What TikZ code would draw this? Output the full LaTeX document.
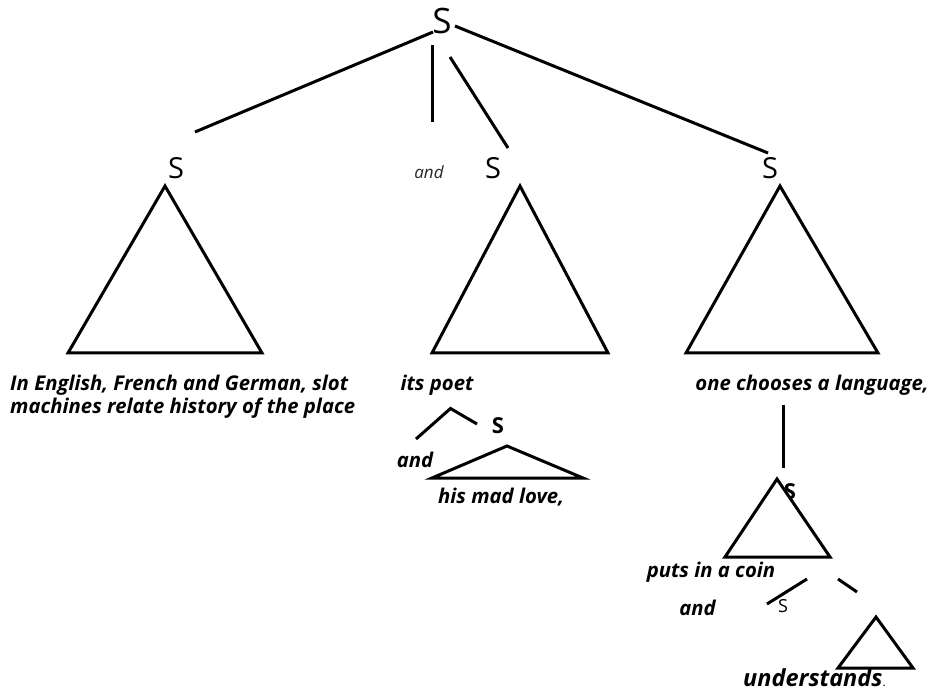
\documentclass[tikz,border=0pt]{standalone}
\usepackage{fontspec}
\setmainfont{Open Sans}
\begin{document}
\begin{tikzpicture}[x=1pt,y=-1pt,
  edge/.style={line width=3pt},
  tri/.style={line width=3pt, line join=miter},
  cat/.style={inner sep=0pt, font=\fontsize{29}{30}\selectfont},
  topcat/.style={inner sep=0pt, font=\fontsize{35}{36}\selectfont},
  catb/.style={inner sep=0pt, font=\fontsize{22}{24}\selectfont\bfseries},
  conj/.style={inner sep=0pt, text=black!85, font=\fontsize{17}{20}\selectfont\itshape},
  words/.style={inner sep=0pt, font=\fontsize{20.3}{23}\selectfont\bfseries\itshape}]
\useasboundingbox (0,0) rectangle (932,692);

% top clause and its three daughters
\node[topcat] (s0) at (442,21) {S};
\node[cat] (s1) at (176,168) {S};
\node[conj] (and1) at (429,172) {and};
\node[cat] (s2) at (493,168) {S};
\node[cat] (s3) at (770,168) {S};

\coordinate (s0l) at (433,32);
\coordinate (s1t) at (195,132);
\coordinate (s0m) at (432,45);
\coordinate (andt) at (432,122);
\coordinate (s0d) at (450,57);
\coordinate (s2t) at (508,148);
\coordinate (s0r) at (455,26);
\coordinate (s3t) at (768,153);
\draw[edge] (s0l) -- (s1t);
\draw[edge] (s0m) -- (andt);
\draw[edge] (s0d) -- (s2t);
\draw[edge] (s0r) -- (s3t);

% constituent triangles
\draw[tri] (165,186) -- (262,353) -- (68,353) -- cycle;
\draw[tri] (520,186) -- (608,353) -- (432,353) -- cycle;
\draw[tri] (780,186) -- (878,353) -- (686,353) -- cycle;

% left clause
\node[words, anchor=west] (w1a) at (10,385) {In English, French and German, slot};
\node[words, anchor=west] (w1b) at (10,408) {machines relate history of the place};

% middle clause
\node[words] (w2) at (437,385) {its poet};
\node[catb] (s21) at (498,426) {S};
\node[words] (and2) at (415,460) {and};
\coordinate (p1) at (416,439);
\coordinate (p2) at (450.5,408.5);
\coordinate (p3) at (477,424);
\draw[edge] (p1) -- (p2) -- (p3);
\draw[tri] (507,446) -- (583,478) -- (432,478) -- cycle;
\node[words] (w3) at (501,497) {his mad love,};

% right clause
\node[words] (w4) at (812,385) {one chooses a language,};
\node[catb] (s31) at (790,492) {S};
\coordinate (v1) at (783,405);
\coordinate (v2) at (783,468);
\draw[edge] (v1) -- (v2);
\draw[tri, fill=white] (777,479) -- (830,557) -- (725,557) -- cycle;
\node[words] (w5) at (711,572) {puts in a coin};
\node[words] (and3) at (697.5,608) {and};
\node[inner sep=0pt, font=\fontsize{18}{20}\selectfont] (s32) at (783,606) {S};
\coordinate (q1) at (767,604);
\coordinate (q2) at (807,579);
\draw[edge] (q1) -- (q2);
\coordinate (r1) at (838,579);
\coordinate (r2) at (857,592);
\draw[edge] (r1) -- (r2);
\draw[tri] (876,617) -- (913,668) -- (838,668) -- cycle;
\node[inner sep=0pt, anchor=base west] (w6) at (743,686)
  {\fontsize{23.5}{26}\selectfont\bfseries\itshape understands\fontsize{12}{14}\selectfont\mdseries\upshape.};
\end{tikzpicture}
\end{document}
